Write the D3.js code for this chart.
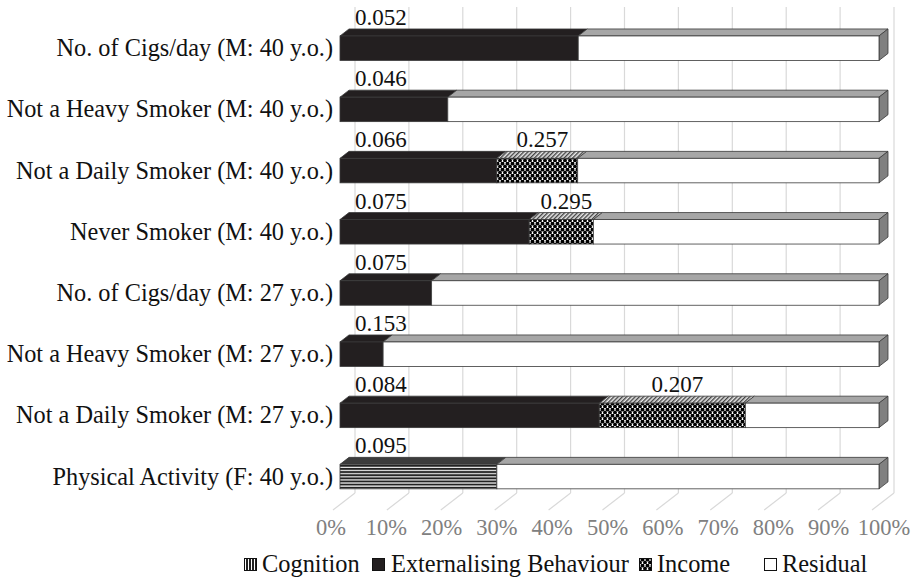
<!DOCTYPE html>
<html><head><meta charset="utf-8">
<script src="https://cdn.jsdelivr.net/npm/d3@7/dist/d3.min.js"></script>
<style>html,body{margin:0;padding:0;background:#fff}svg{display:block}</style>
</head><body><svg id="c" width="913" height="580"></svg>
<script>
const categories = ["No. of Cigs/day (M: 40 y.o.)","Not a Heavy Smoker (M: 40 y.o.)","Not a Daily Smoker (M: 40 y.o.)","Never Smoker (M: 40 y.o.)","No. of Cigs/day (M: 27 y.o.)","Not a Heavy Smoker (M: 27 y.o.)","Not a Daily Smoker (M: 27 y.o.)","Physical Activity (F: 40 y.o.)"];
const seriesNames = ["Cognition","Externalising Behaviour","Income","Residual"];
const cognition     = [0,0,0,0,0,0,0,0.291];
const externalising = [0.442,0.200,0.291,0.351,0.170,0.080,0.481,0];
const income        = [0,0,0.150,0.119,0,0,0.271,0];
const residual      = [0.558,0.800,0.559,0.530,0.830,0.920,0.248,0.709];
const labelFirst  = ["0.052","0.046","0.066","0.075","0.075","0.153","0.084","0.095"];
const labelIncome = [null,null,"0.257","0.295",null,null,"0.207",null];
const tickValues = [0,0.1,0.2,0.3,0.4,0.5,0.6,0.7,0.8,0.9,1];
const tickLabels = ["0%","10%","20%","30%","40%","50%","60%","70%","80%","90%","100%"];

const svg = d3.select("#c");
const FONT = "'Liberation Serif','Times New Roman',serif";
const DX = 9, DY = 7;
const x = d3.scaleLinear().domain([0,1]).range([340,879]);
const xTick = d3.scaleLinear().domain([0,1]).range([331,884]);
const y = d3.scaleBand().domain(categories).range([17.6,507.2]).paddingInner(0.6).paddingOuter(0.3);

const defs = svg.append("defs");
const pc = defs.append("pattern").attr("id","pCog").attr("patternUnits","userSpaceOnUse").attr("width",4).attr("height",3.1);
pc.append("rect").attr("width",4).attr("height",3.1).attr("fill","#fff");
pc.append("rect").attr("width",4).attr("height",1.9).attr("fill","#222");
const pcv = defs.append("pattern").attr("id","pCogV").attr("patternUnits","userSpaceOnUse").attr("width",3).attr("height",4);
pcv.append("rect").attr("width",3).attr("height",4).attr("fill","#fff");
pcv.append("rect").attr("width",2).attr("height",4).attr("fill","#222");
const pi = defs.append("pattern").attr("id","pInc").attr("patternUnits","userSpaceOnUse").attr("width",5).attr("height",6);
pi.append("rect").attr("width",5).attr("height",6).attr("fill","#fff");
[[2.5,1.5],[0,4.5],[5,4.5]].forEach(([cx,cy])=>{
  pi.append("circle").attr("cx",cx).attr("cy",cy).attr("r",1.9).attr("fill","#000");
});
const ph = defs.append("pattern").attr("id","pIncTop").attr("patternUnits","userSpaceOnUse").attr("width",3).attr("height",3).attr("patternTransform","rotate(45)");
ph.append("rect").attr("width",3).attr("height",3).attr("fill","#e8e8e8");
ph.append("rect").attr("width",1.4).attr("height",3).attr("fill","#444");

const frontFill = {"Cognition":"url(#pCog)","Externalising Behaviour":"#231f20","Income":"url(#pInc)","Residual":"#fff"};
const topFill = {"Cognition":"#3c3c3c","Externalising Behaviour":"#231f20","Income":"url(#pIncTop)","Residual":"#a6a6a6"};

const grid = svg.append("g");
tickValues.forEach(v=>{
  grid.append("line").attr("x1",x(v)+15).attr("x2",x(v)+15).attr("y1",7).attr("y2",493).attr("stroke","#d9d9d9").attr("stroke-width",1.2);
  grid.append("line").attr("x1",x(v)+15).attr("y1",493).attr("x2",x(v)-7).attr("y2",510).attr("stroke","#d9d9d9").attr("stroke-width",1.2);
});
svg.append("g").selectAll("text").data(tickValues).join("text")
  .attr("x",(d)=>xTick(d)).attr("y",535).attr("text-anchor","middle")
  .attr("font-family",FONT).attr("font-size",22.5).attr("fill","#808080")
  .text((d,i)=>tickLabels[i]);

const seriesData = [cognition, externalising, income, residual];
const bars = svg.append("g");
categories.forEach((cat,i)=>{
  const top = y(cat), h = y.bandwidth();
  let acc = 0;
  const segs = [];
  seriesNames.forEach((s,k)=>{
    const v = seriesData[k][i];
    if(v>0){ segs.push({s, a:acc, b:acc+v}); acc += v; }
  });
  const g = bars.append("g");
  segs.forEach(sg=>{
    const x0 = x(sg.a), x1 = x(sg.b);
    g.append("path").attr("d",`M${x0},${top}L${x1},${top}L${x1+DX},${top-DY}L${x0+DX},${top-DY}Z`)
      .attr("fill",topFill[sg.s]).attr("stroke","#3a3a3a").attr("stroke-width",0.8).attr("stroke-linejoin","round");
  });
  const last = segs[segs.length-1];
  const xe = x(last.b);
  g.append("path").attr("d",`M${xe},${top}L${xe+DX},${top-DY}L${xe+DX},${top+h-DY}L${xe},${top+h}Z`)
    .attr("fill","#808080").attr("stroke","#3a3a3a").attr("stroke-width",0.8);
  segs.forEach(sg=>{
    g.append("rect").attr("x",x(sg.a)).attr("y",top).attr("width",x(sg.b)-x(sg.a)).attr("height",h)
      .attr("fill",frontFill[sg.s]).attr("stroke","#3a3a3a").attr("stroke-width",0.8);
  });
  svg.append("text").attr("x",x(0)+15).attr("y",top-11).attr("font-family",FONT).attr("font-size",23).attr("fill","#111").text(labelFirst[i]);
  if(labelIncome[i]){
    const a = externalising[i]+cognition[i], b = a+income[i];
    svg.append("text").attr("x",(x(a)+x(b))/2+5).attr("y",top-11).attr("text-anchor","middle")
      .attr("font-family",FONT).attr("font-size",23).attr("fill","#111").text(labelIncome[i]);
  }
  svg.append("text").attr("x",333).attr("y",top+h/2+8).attr("text-anchor","end")
    .attr("font-family",FONT).attr("font-size",24.3).attr("fill","#111").text(cat);
});

const legendX = [{ix:244,tx:262},{ix:372,tx:391},{ix:639,tx:657},{ix:764,tx:782}];
const legFill = ["url(#pCogV)","#231f20","url(#pInc)","#fff"];
const lg = svg.append("g");
seriesNames.forEach((s,k)=>{
  lg.append("rect").attr("x",legendX[k].ix+0.5).attr("y",558.5).attr("width",12).attr("height",12)
    .attr("fill",legFill[k]).attr("stroke","#111").attr("stroke-width",1);
  lg.append("text").attr("x",legendX[k].tx).attr("y",572).attr("font-family",FONT).attr("font-size",24.4).attr("fill","#111").text(s);
});
</script></body></html>
